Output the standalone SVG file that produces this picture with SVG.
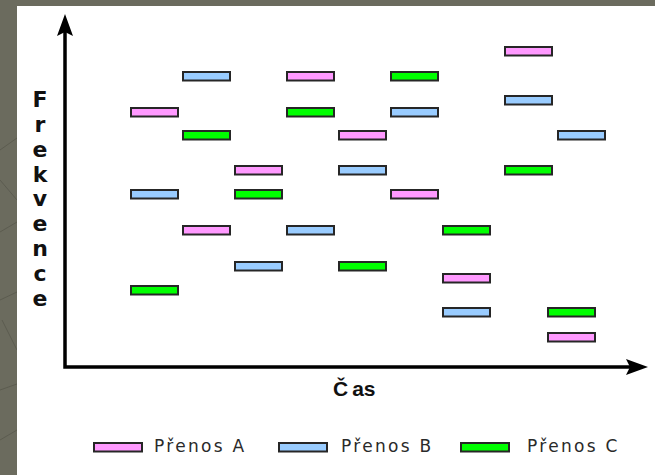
<svg xmlns="http://www.w3.org/2000/svg" width="655" height="475" viewBox="0 0 655 475">
  <style>
    .bar { stroke: #262626; stroke-width: 2; }
    .a { fill: #ff99ff; }
    .b { fill: #99ccff; }
    .c { fill: #00ff00; }
    .axis { stroke: #000; stroke-width: 3.5; fill: none; }
    .ylab { font-family: "DejaVu Sans", "Liberation Sans", sans-serif; font-weight: bold; font-size: 22px; fill: #111; text-anchor: middle; }
    .xlab { font-family: "Liberation Sans", Arial, sans-serif; font-weight: bold; font-size: 21px; fill: #111; }
    .leg { font-family: "DejaVu Sans", "Liberation Sans", sans-serif; font-size: 17px; fill: #2a2a2a; letter-spacing: 2.3px; }
  </style>
  <defs>
    <symbol id="bar" overflow="visible">
      <rect x="1" y="1" width="47" height="8.5"/>
    </symbol>
  </defs>

  <!-- page backdrop -->
  <rect x="0" y="0" width="655" height="475" fill="#6b6b5e"/>
  <g stroke="#5c5c50" stroke-width="1" fill="none">
    <path d="M0 150 L17 138"/>
    <path d="M0 232 L17 222"/>
    <path d="M0 300 L17 292"/>
    <path d="M0 390 L17 384"/>
    <path d="M0 440 L17 430"/>
    <path d="M2 320 L17 350"/>
    <path d="M0 180 L17 200"/>
  </g>
  <rect x="17" y="6" width="638" height="469" fill="#ffffff"/>

  <!-- axes -->
  <g id="axes">
    <path class="axis" d="M65 30 L65 367 L632 367"/>
    <path d="M65 14 L73 36 L65 32 L57 36 Z" fill="#000"/>
    <path d="M648 367 L626 359 L630 367 L626 375 Z" fill="#000"/>
  </g>

  <!-- axis labels -->
  <g id="label-frekvence">
    <text class="ylab" x="40" y="107">F</text>
    <text class="ylab" x="40" y="132">r</text>
    <text class="ylab" x="40" y="157">e</text>
    <text class="ylab" x="40" y="182">k</text>
    <text class="ylab" x="40" y="206">v</text>
    <text class="ylab" x="40" y="231">e</text>
    <text class="ylab" x="40" y="256">n</text>
    <text class="ylab" x="40" y="281">c</text>
    <text class="ylab" x="40" y="306">e</text>
  </g>
  <g id="label-cas">
    <text class="xlab" x="333" y="396">Č<tspan dx="4">as</tspan></text>
  </g>

  <!-- transmission A -->
  <g id="prenos-a" class="bar a">
    <use href="#bar" x="130" y="107"/>
    <use href="#bar" x="182" y="225"/>
    <use href="#bar" x="234" y="165"/>
    <use href="#bar" x="286" y="71"/>
    <use href="#bar" x="338" y="130"/>
    <use href="#bar" x="390" y="189"/>
    <use href="#bar" x="442" y="273"/>
    <use href="#bar" x="504" y="46"/>
    <use href="#bar" x="547" y="332"/>
  </g>

  <!-- transmission B -->
  <g id="prenos-b" class="bar b">
    <use href="#bar" x="130" y="189"/>
    <use href="#bar" x="182" y="71"/>
    <use href="#bar" x="234" y="261"/>
    <use href="#bar" x="286" y="225"/>
    <use href="#bar" x="338" y="165"/>
    <use href="#bar" x="390" y="107"/>
    <use href="#bar" x="442" y="307"/>
    <use href="#bar" x="504" y="95"/>
    <use href="#bar" x="557" y="130"/>
  </g>

  <!-- transmission C -->
  <g id="prenos-c" class="bar c">
    <use href="#bar" x="130" y="285"/>
    <use href="#bar" x="182" y="130"/>
    <use href="#bar" x="234" y="189"/>
    <use href="#bar" x="286" y="107"/>
    <use href="#bar" x="338" y="261"/>
    <use href="#bar" x="390" y="71"/>
    <use href="#bar" x="442" y="225"/>
    <use href="#bar" x="504" y="165"/>
    <use href="#bar" x="547" y="307"/>
  </g>

  <!-- legend -->
  <g id="legend">
    <g id="legend-a">
      <rect class="bar a" x="94" y="443" width="48" height="8.5"/>
      <text class="leg" x="154" y="452">Přenos A</text>
    </g>
    <g id="legend-b">
      <rect class="bar b" x="279" y="443" width="48" height="8.5"/>
      <text class="leg" x="341" y="452">Přenos B</text>
    </g>
    <g id="legend-c">
      <rect class="bar c" x="461" y="443" width="48" height="8.5"/>
      <text class="leg" x="527" y="452">Přenos C</text>
    </g>
  </g>
</svg>
